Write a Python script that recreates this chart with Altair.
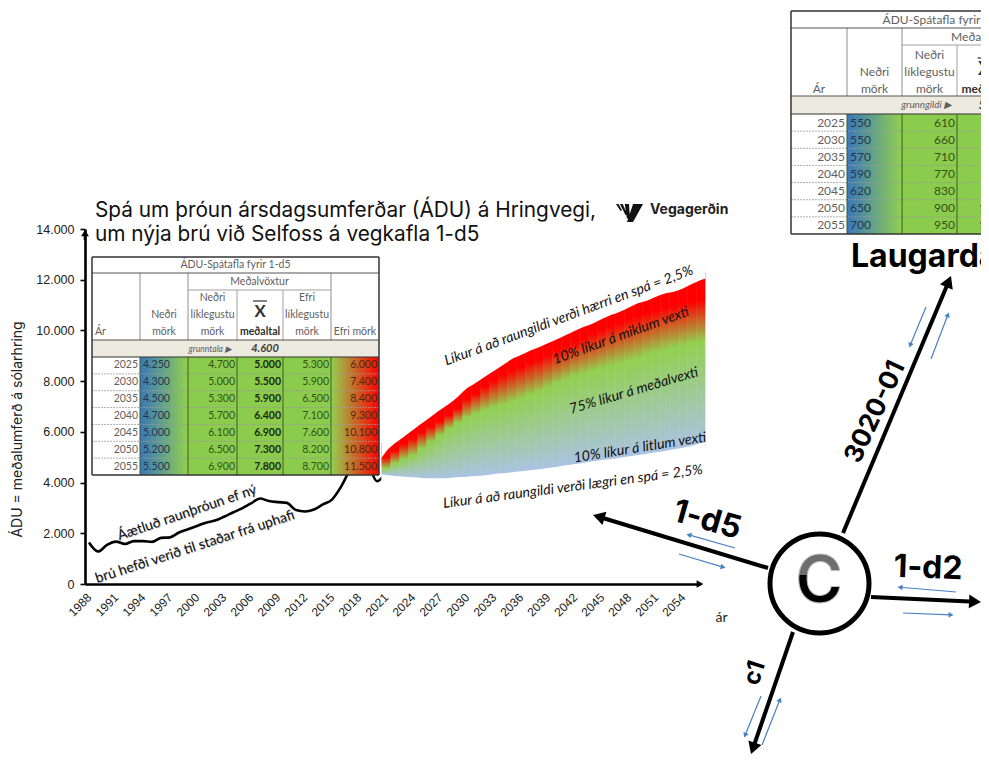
import math
import altair as alt
import pandas as pd

W, H = 973, 747
SANS = "Inter"
BODY = "Lato"
AXISF = "Liberation Sans"

# ---- chart values ----
YEARS = list(range(1988, 2022))
ADT = [1634,1280,1540,1670,1580,1690,1690,1660,1820,1840,2030,2160,2290,2420,2500,2650,2820,2980,3180,3370,3270,3230,3200,2915,2860,2940,3140,3330,3830,4500,5000,4750,4050,4400]
FAN_YEARS = list(range(2021, 2057))
UPPER = [5218,5546,5810,6072,6335,6598,6861,7097,7387,7715,7938,8176,8399,8635,8872,9030,9201,9332,9490,9648,9818,9990,10146,10278,10449,10607,10738,10909,11067,11172,11330,11461,11527,11658,11829,11987]
RED_END = [4994,5257,5520,5744,5980,6204,6427,6664,6926,7281,7518,7781,8017,8241,8411,8569,8727,8858,9029,9200,9358,9529,9686,9857,10015,10173,10304,10436,10567,10672,10777,10896,10961,11040,11119,11198]
GREEN_START = [4561,4758,4929,5086,5349,5612,5875,6138,6361,6571,6729,6861,6966,7058,7189,7321,7452,7584,7741,7912,8070,8201,8306,8399,8504,8596,8701,8793,8898,9029,9134,9226,9318,9397,9489,9555]
LOWER = [4298,4258,4232,4206,4180,4167,4167,4180,4206,4232,4258,4285,4337,4364,4403,4443,4482,4522,4574,4627,4680,4732,4784,4837,4889,4929,4982,5034,5086,5139,5192,5244,5310,5376,5454,5546]
EDGE_YEARS = [2020.5, 2056.5]
EDGE_UPPER = [4970, 12050]
EDGE_LOWER = [4330, 5590]
X_TICKS = list(range(1988, 2055, 3))
Y_TICKS = [0, 2000, 4000, 6000, 8000, 10000, 12000, 14000]

# ---- table values ----
T_YEARS = [2025, 2030, 2035, 2040, 2045, 2050, 2055]
A_LOW = [4250,4300,4500,4700,5000,5200,5500]
A_LL = [4700,5000,5300,5700,6100,6500,6900]
A_MEAN = [5000,5500,5900,6400,6900,7300,7800]
A_HL = [5300,5900,6500,7100,7600,8200,8700]
A_HIGH = [6000,7400,8400,9300,10100,10800,11500]
B_LOW = [550,550,570,590,620,650,700]
B_LL = [610,660,710,770,830,900,950]
B_MEAN = [660,710,770,830,900,1000,1100]
B_HL = [710,770,830,900,980,1060,1150]
B_HIGH = [800,880,960,1050,1150,1250,1350]

# canvas scales: image pixels
PX = alt.Scale(domain=[8, 8 + W], range=[0, W])
PY = alt.Scale(domain=[8, 8 + H], range=[0, H])
# data scales
YRS = alt.Scale(domain=[1987.556, 2055.9], range=[77, 692])
VAL = alt.Scale(domain=[0, 14000], range=[576, 221])


def dot(v):
    return f"{v:,}".replace(",", ".")


def enc_px(c, **kw):
    return c.encode(x=alt.X("x:Q", scale=PX, axis=None), y=alt.Y("y:Q", scale=PY, axis=None), **kw)


def texts(rows, **mark):
    df = pd.DataFrame(rows, columns=["x", "y", "t"])
    mark.setdefault("baseline", "middle")
    return enc_px(alt.Chart(df).mark_text(clip=True, **mark), text="t:N")


def rect(x0, y0, x1, y1, **mark):
    df = pd.DataFrame({"x": [x0], "x2": [x1], "y": [y0], "y2": [y1]})
    return alt.Chart(df).mark_rect(clip=True, **mark).encode(
        x=alt.X("x:Q", scale=PX, axis=None), x2="x2:Q",
        y=alt.Y("y:Q", scale=PY, axis=None), y2="y2:Q")


def seg(x0, y0, x1, y1, color="black", width=1.0, **mark):
    df = pd.DataFrame({"x": [x0], "x2": [x1], "y": [y0], "y2": [y1]})
    return alt.Chart(df).mark_rule(color=color, strokeWidth=width, clip=True, **mark).encode(
        x=alt.X("x:Q", scale=PX, axis=None), x2="x2:Q",
        y=alt.Y("y:Q", scale=PY, axis=None), y2="y2:Q")


def arrow(x0, y0, x1, y1, color="black", width=4.0, size=190, back=6):
    d = math.hypot(x1 - x0, y1 - y0)
    ux, uy = (x1 - x0) / d, (y1 - y0) / d
    ang = math.degrees(math.atan2(x1 - x0, y0 - y1)) % 360
    df = pd.DataFrame({"x": [x1 - ux * back], "y": [y1 - uy * back]})
    head = enc_px(alt.Chart(df).mark_point(shape="triangle-up", filled=True, opacity=1,
                                           color=color, size=size, angle=ang, clip=True))
    return [seg(x0, y0, x1 - ux * back, y1 - uy * back, color, width), head]


def grad_h(c0, c1):
    return alt.Gradient(gradient="linear", x1=0, x2=1, y1=0, y2=0,
                        stops=[alt.GradientStop(color=c0, offset=0), alt.GradientStop(color=c1, offset=1)])


def table(cols, rows, hdr, title, base_label, base_val, vals, fs, year_left):
    c0, c1, c2, c3, c4, c5, c6 = cols
    r0, r1, r2, r3, r4 = rows
    n = len(T_YEARS)
    rh = (r4 - r3) / n
    GREY = "#5f5f5f"
    DK = "#34511c"
    sub = r1 + 17
    L = [rect(c0, r0, c6, r4, color="white"),
         rect(c0, r2, c6, r3, color="#ece9df"),
         rect(c1, r3, c2, r4, color=grad_h("#3a77ba", "#92d050")),
         rect(c2, r3, c5, r4, color="#8ccc4c"),
         rect(c5, r3, c6, r4, color=grad_h("#92d050", "#ff0000"))]
    for i in range(1, n):
        yy = r3 + i * rh
        L.append(seg(c0, yy, c6, yy, "#9a9a9a", 0.8, strokeDash=[2, 1]))
    for c in [c1, c2, c3, c4, c5]:
        L.append(seg(c, r3, c, r4, "#3c5a24", 1.0))
    for c in [c1, c2, c5]:
        L.append(seg(c, r1, c, r2, "#a0a0a0", 1.2))
    for c in [c3, c4]:
        L.append(seg(c, sub, c, r2, "#a0a0a0", 1.0))
    L.append(seg(c2, sub, c5, sub, "#a0a0a0", 1.0))
    for yy, col, wd in [(r1, "#555555", 1.2), (r2, "#555555", 1.2), (r3, "#333333", 1.2),
                        (r0, "#333333", 1.5), (r4, "#333333", 1.5)]:
        L.append(seg(c0, yy, c6, yy, col, wd))
    L.append(seg(c0, r0, c0, r4, "#333333", 1.5))
    L.append(seg(c6, r0, c6, r4, "#333333", 1.5))
    y1, y2, y3 = hdr
    mid = lambda a, b: (a + b) / 2
    xm = mid(c3, c4)
    L.append(texts([(mid(c0, c6), mid(r0, r1), title),
                    (mid(c2, c5), mid(r1, sub), "Meðalvöxtur"),
                    (mid(c1, c2), y2, "Neðri"), (mid(c1, c2), y3, "mörk"),
                    (mid(c2, c3), y1, "Neðri"), (mid(c2, c3), y2, "líklegustu"), (mid(c2, c3), y3, "mörk"),
                    (mid(c4, c5), y1, "Efri"), (mid(c4, c5), y2, "líklegustu"), (mid(c4, c5), y3, "mörk"),
                    (mid(c5, c6), y3, "Efri mörk")],
                   font=BODY, fontSize=fs, color=GREY, align="center"))
    if year_left:
        L.append(texts([(c0 + 3, y3, "Ár")], font=BODY, fontSize=fs, color=GREY, align="left"))
    else:
        L.append(texts([(mid(c0, c1), y3, "Ár")], font=BODY, fontSize=fs, color=GREY, align="center"))
    L.append(texts([(xm, y3, "meðaltal")], font=BODY, fontSize=fs, fontWeight="bold", color="#303030", align="center"))
    L.append(texts([(xm, (y1 + y2) / 2 + 5, "X")], font=BODY, fontSize=fs * 1.6, fontWeight="bold", color="#333333", align="center"))
    L.append(seg(xm - 7, y1 + 3, xm + 7, y1 + 3, "#333333", 1.2))
    L.append(texts([(c3 - 5, mid(r2, r3), base_label)], font=BODY, fontSize=fs * 0.82, fontStyle="italic", color=GREY, align="right"))
    L.append(texts([(xm + 5, mid(r2, r3), base_val)], font=BODY, fontSize=fs * 1.05, fontStyle="italic", fontWeight="bold", color="#404040", align="center"))
    ys = [r3 + (i + 0.5) * rh for i in range(n)]
    L.append(texts([(c1 - 2, y, str(v)) for y, v in zip(ys, T_YEARS)], font=BODY, fontSize=fs, color=GREY, align="right"))
    L.append(texts([(c1 + 3, y, dot(v)) for y, v in zip(ys, vals[0])], font=BODY, fontSize=fs, color="#24364f", align="left"))
    L.append(texts([(c3 - 2, y, dot(v)) for y, v in zip(ys, vals[1])], font=BODY, fontSize=fs, color=DK, align="right"))
    L.append(texts([(c4 - 2, y, dot(v)) for y, v in zip(ys, vals[2])], font=BODY, fontSize=fs, fontWeight="bold", color="#1c2a10", align="right"))
    L.append(texts([(c5 - 2, y, dot(v)) for y, v in zip(ys, vals[3])], font=BODY, fontSize=fs, color=DK, align="right"))
    L.append(texts([(c6 - 2, y, dot(v)) for y, v in zip(ys, vals[4])], font=BODY, fontSize=fs, color="#4a2a10", align="right"))
    return L


layers = []

# ---- axes + measured line ----
df_line = pd.DataFrame({"year": YEARS, "adt": ADT})
line = alt.Chart(df_line).mark_line(color="black", strokeWidth=2.6, interpolate="monotone").encode(
    x=alt.X("year:Q", scale=YRS, axis=alt.Axis(
        orient="bottom", offset=-171, values=X_TICKS, format="d", labelAngle=-45, labelAlign="right",
        labelBaseline="middle", labelFont=AXISF, labelFontSize=12, labelColor="#222222", labelPadding=11,
        ticks=False, domainColor="black", domainWidth=2.6, grid=False, labelOverlap=False,
        title="ár", titleFont=BODY, titleFontSize=14, titleFontWeight="normal", titleColor="#222222",
        titleX=713, titleY=26)),
    y=alt.Y("adt:Q", scale=VAL, axis=alt.Axis(
        orient="left", offset=-77, values=Y_TICKS, labelExpr="replace(format(datum.value, ','), ',', '.')",
        labelFont=AXISF, labelFontSize=12.5, labelColor="#222222", labelPadding=6,
        tickSize=5, tickColor="black", tickWidth=1.6, domainColor="black", domainWidth=2.6, grid=False,
        title="ÁDU = meðalumferð á sólarhring", titleFont=SANS, titleFontSize=14, titleFontWeight="normal",
        titleColor="#222222", titleAngle=270, titleX=-68, titleY=421, titleAlign="center", titleBaseline="middle")))
layers.append(line)
layers += arrow(698, 584, 705, 584, "black", 2.6, 60, 5)
layers += arrow(85, 240, 85, 228, "black", 2.6, 60, 5)

# ---- fan, one gradient column per year; white masks smooth its outer edges ----
for yr, up, re, gs, lo in zip(FAN_YEARS, UPPER, RED_END, GREEN_START, LOWER):
    top, bot = up + 350, lo - 200
    span = top - bot
    stops = [alt.GradientStop(color="#ff0000", offset=0),
             alt.GradientStop(color="#ff0000", offset=(top - re) / span),
             alt.GradientStop(color="#92d050", offset=(top - gs) / span),
             alt.GradientStop(color="#abc3e2", offset=(top - lo) / span),
             alt.GradientStop(color="#abc3e2", offset=1)]
    g = alt.Gradient(gradient="linear", x1=0, x2=0, y1=0, y2=1, stops=stops)
    d = pd.DataFrame({"a": [yr - 0.5], "b": [yr + 0.55 if yr < 2056 else yr + 0.5], "lo": [bot], "up": [top]})
    layers.append(alt.Chart(d).mark_rect(color=g).encode(
        x=alt.X("a:Q", scale=YRS, axis=None), x2="b:Q",
        y=alt.Y("up:Q", scale=VAL, axis=None), y2="lo:Q"))

mask_x = [EDGE_YEARS[0]] + FAN_YEARS + [EDGE_YEARS[1]]
mask_up = [EDGE_UPPER[0]] + UPPER + [EDGE_UPPER[1]]
mask_lo = [EDGE_LOWER[0]] + LOWER + [EDGE_LOWER[1]]
mask = pd.DataFrame({"year": mask_x, "up": mask_up, "lo": mask_lo,
                     "top": [13000] * len(mask_x), "bot": [3800] * len(mask_x)})
for f, g2 in [("up", "top"), ("lo", "bot")]:
    layers.append(alt.Chart(mask).mark_area(color="white", interpolate="monotone").encode(
        x=alt.X("year:Q", scale=YRS, axis=None),
        y=alt.Y(f"{f}:Q", scale=VAL, axis=None), y2=f"{g2}:Q"))

# ---- tables ----
layers += table([92, 140, 188, 237, 283, 331, 379], [257, 273, 340, 357, 475], (298, 315, 332),
                "ÁDU-Spátafla fyrir 1-d5", "grunntala ▶", "4.600",
                [A_LOW, A_LL, A_MEAN, A_HL, A_HIGH], 10.5, True)
layers += table([791, 847, 902, 957, 1012, 1067, 1121], [11, 28, 96, 114, 234], (55, 72, 89),
                "ÁDU-Spátafla fyrir 3020-01", "grunngildi ▶", "580",
                [B_LOW, B_LL, B_MEAN, B_HL, B_HIGH], 12, False)


# ---- annotation texts ----
def rot(x, y, t, ang, size=13, **kw):
    kw.setdefault("font", BODY)
    kw.setdefault("fontStyle", "italic")
    kw.setdefault("color", "#111111")
    return texts([(x, y, t)], fontSize=size, angle=ang % 360, align="center", **kw)


layers += [
    rot(569, 316, "Líkur á að raungildi verði hærri en spá = 2,5%", -20.3, 14.2),
    rot(621, 336, "10% líkur á miklum vexti", -20, 14.2),
    rot(634, 391, "75% líkur á meðalvexti", -16.5, 14.2),
    rot(640, 448, "10% líkur á litlum vexti", -9, 14.2),
    rot(573, 487, "Líkur á að raungildi verði lægri en spá = 2,5%", -7.5, 14.2),
    rot(187.7, 513.7, "Áætluð raunþróun ef ný", -18.8, 14, fontStyle="normal", color="#bbbbbb"),
    rot(195.7, 547.7, "brú hefði verið til staðar frá uphafi", -18, 14, fontStyle="normal", color="#bbbbbb"),
    rot(187, 513, "Áætluð raunþróun ef ný", -18.8, 14, fontStyle="normal"),
    rot(195, 547, "brú hefði verið til staðar frá uphafi", -18, 14, fontStyle="normal"),
]

# ---- heading + logo ----
layers.append(texts([(95, 211, "Spá um þróun ársdagsumferðar (ÁDU) á Hringvegi,"),
                     (95, 235, "um nýja brú við Selfoss á vegkafla 1-d5")],
                    font=SANS, fontSize=20.8, color="#111111", align="left"))
layers.append(texts([(650, 210, "Vegagerðin")], font=SANS, fontSize=14, fontWeight="bold", color="#222222", align="left"))
logo = pd.DataFrame({"x": [629], "y": [213]})
layers.append(enc_px(alt.Chart(logo).mark_point(
    shape="M.29 -.64 L1 -.64 L.29 .64 L-.14 .64 Z M-.93 -.64 L-.75 -.64 L-.5 -.2 L-.6 -.15 Z "
          "M-.65 -.64 L-.45 -.64 L-.12 .1 L-.25 .15 Z M-.3 -.64 L0 -.64 L.05 .1 L-.05 .4 L-.15 .4 Z",
    filled=True, opacity=1, color="#111111", size=784)))

# ---- junction diagram ----
BLUE = "#4a80c4"
layers += arrow(843, 533, 951, 276)
layers += arrow(768, 568, 593, 515)
layers += arrow(871, 597, 981, 602)
layers += arrow(793, 632, 751, 754)
for a in [(926, 307, 909, 348), (931, 359, 949, 312), (735, 548, 686, 534), (679, 554, 726, 568),
          (956, 592, 897, 587), (903, 613, 954, 615), (761, 696, 744, 738), (762, 745, 781, 697)]:
    layers += arrow(*a, color=BLUE, width=1.2, size=32, back=3)

circ = pd.DataFrame({"x": [819.5], "y": [583.5]})
layers.append(enc_px(alt.Chart(circ).mark_point(shape="circle", filled=True, fill="white", stroke="black",
                                                strokeWidth=5, opacity=1, size=9800)))
cg = alt.Gradient(gradient="linear", x1=0, x2=0, y1=0, y2=1, stops=[
    alt.GradientStop(color="#6e6e6e", offset=0), alt.GradientStop(color="#6e6e6e", offset=0.45),
    alt.GradientStop(color="#000000", offset=0.45), alt.GradientStop(color="#000000", offset=1)])
layers.append(texts([(819, 583, "C")], font=SANS, fontSize=64, fontWeight=600, color=cg,
                    align="center", stroke="#bbbbbb", strokeWidth=1))

layers += [
    rot(707, 520, "1-d5", 16, 32, font=SANS, fontStyle="normal", fontWeight="bold", color="black"),
    rot(928, 568, "1-d2", 2, 32, font=SANS, fontStyle="normal", fontWeight="bold", color="black"),
    rot(755, 673, "c1", -72, 24, font=SANS, fontStyle="normal", fontWeight="bold", color="black"),
    rot(875, 412, "3020-01", -65, 26, font=SANS, fontStyle="normal", fontWeight="bold", color="black"),
]
layers.append(texts([(851, 257, "Laugardalur")], font=SANS, fontSize=32, fontWeight="bold", color="black", align="left"))

chart = alt.layer(*layers).resolve_scale(x="independent", y="independent").properties(
    width=W, height=H, padding=0, autosize=alt.AutoSizeParams(type="none"),
    background="white").configure_view(stroke=None)

chart.save("out.html", embed_options={"renderer": "svg", "actions": False})
